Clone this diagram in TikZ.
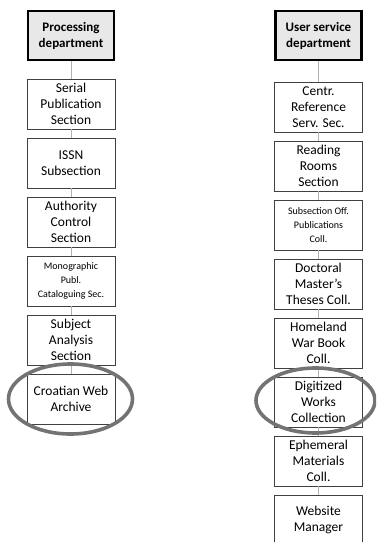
\documentclass[tikz,border=0pt]{standalone}
\usepackage{fontspec}
\setmainfont{Carlito}
\begin{document}
\begin{tikzpicture}[x=1pt,y=-1pt]
  \tikzstyle{chef}=[draw=black, line width=2.2pt, fill=gray!18, text=black,
  font=\bfseries\fontsize{13}{16}\selectfont, align=center,
  minimum width=86pt, minimum height=49pt, inner sep=0pt]
  \tikzstyle{bloc}=[draw=black!75, line width=0.8pt, fill=white, text=black,
  align=center, minimum width=88pt, minimum height=50pt, inner sep=0pt]
  \tikzstyle{texte}=[font=\fontsize{13.5}{16}\selectfont]
  \tikzstyle{petit}=[font=\fontsize{10}{14}\selectfont]
  \tikzstyle{lien}=[draw=gray!60, line width=0.8pt]
  \tikzstyle{anneau}=[draw=black!55, line width=3.6pt]
  \path[use as bounding box, clip] (0,0) rectangle (376,542);
  \node[chef] (trait) at (71,35.5) {Processing\\department};
  \node[chef] (usager) at (318.5,35.5) {User service\\department};
  \foreach \n/\y/\f/\t in {serie/104/texte/{Serial\\Publication\\Section},
    issn/163/texte/{ISSN\\Subsection},
    autorite/222/texte/{Authority\\Control\\Section},
    mono/281/petit/{Monographic\\Publ.\\Cataloguing Sec.},
    sujet/340/texte/{Subject\\Analysis\\Section},
    croate/399/texte/{Croatian Web\\Archive}} {
    \node[bloc,\f] (\n) at (71,\y) {\t};
  }
  \foreach \n/\y/\f/\t in {centre/107/texte/{Centr.\\Reference\\Serv. Sec.},
    lecture/166/texte/{Reading\\Rooms\\Section},
    officiel/225/petit/{Subsection Off.\\Publications\\Coll.},
    these/284/texte/{Doctoral\\Master's\\Theses Coll.},
    guerre/343/texte/{Homeland\\War Book\\Coll.},
    numerique/402/texte/{Digitized\\Works\\Collection},
    ephemere/461/texte/{Ephemeral\\Materials\\Coll.},
    site/520/texte/{Website\\Manager}} {
    \node[bloc,\f] (\n) at (318.5,\y) {\t};
  }
  \foreach \a/\b in {trait/serie,serie/issn,issn/autorite,autorite/mono,
    mono/sujet,sujet/croate,usager/centre,centre/lecture,lecture/officiel,
    officiel/these,these/guerre,guerre/numerique,numerique/ephemere,
    ephemere/site} {
    \draw[lien] (\a) -- (\b);
  }
  \draw[anneau] (70.5,399) ellipse [x radius=62pt, y radius=35pt];
  \draw[anneau] (315.5,400.5) ellipse [x radius=59.5pt, y radius=32.5pt];
\end{tikzpicture}
\end{document}
